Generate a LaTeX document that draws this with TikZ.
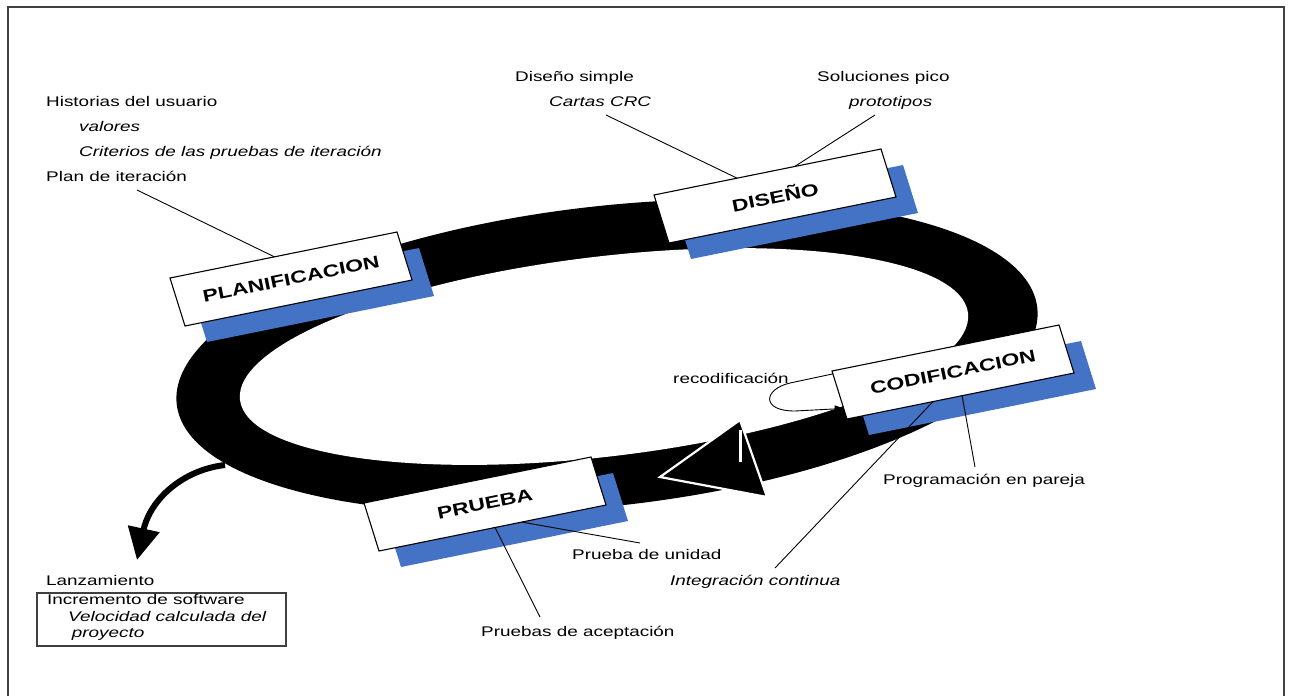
\documentclass[tikz,border=0pt]{standalone}
\usepackage{fontspec}
\setmainfont[FakeStretch=1.35]{Liberation Sans}
\usetikzlibrary{calc,arrows.meta}
\definecolor{phaseblue}{RGB}{68,114,196}
\definecolor{framegray}{RGB}{64,64,64}
\newcommand\cyclebox[4]{%
  \coordinate (#1tl) at (#2,#3);
  \coordinate (#1tr) at ({#2+227},{#3-46});
  \coordinate (#1br) at ({#2+242},{#3+2});
  \coordinate (#1bl) at ({#2+15},{#3+48});
  \fill[phaseblue] ($(#1tl)+(22,16)$) -- ($(#1tr)+(22,16)$) -- ($(#1br)+(22,16)$) -- ($(#1bl)+(22,16)$) -- cycle;
  \draw[phasebox] (#1tl) -- (#1tr) -- (#1br) -- (#1bl) -- cycle;
  \node[phaselabel] (#1) at ($(#1tl)!0.5!(#1br)$) {#4};
}
\begin{document}
\begin{tikzpicture}[x=1pt,y=-1pt,
  lbl/.style={anchor=base west, inner sep=0pt, font=\fontsize{14}{17}\selectfont},
  ilbl/.style={anchor=base west, inner sep=0pt, font=\fontsize{14}{17}\selectfont\itshape},
  phaselabel/.style={inner sep=0pt, rotate=11.5, font=\fontsize{17}{20}\selectfont\bfseries},
  phasebox/.style={draw=black, fill=white, line width=1.1pt},
  conn/.style={draw=black, line width=0.9pt}]
\useasboundingbox (0,0) rectangle (1292,696);
% frame
\draw[framegray, line width=2.4pt] (8,696) -- (8,7) -- (1284,7) -- (1284,696);
% ring
\fill[black, rotate around={6.4:(607,356)}] (607,356) ellipse [x radius=433, y radius=150];
\fill[white, rotate around={6.8:(604,356.5)}] (604,356.5) ellipse [x radius=366.6, y radius=100];
% release arrow
\coordinate (relstart) at (225,465);
\coordinate (reltip) at (137,560);
\draw[line width=6pt, -{Triangle[length=32pt,width=31pt]}] (relstart) .. controls (182,470) and (150,500) .. (reltip);
% direction arrowhead on ring
\filldraw[fill=black, draw=white, line width=2.2pt] (660,477) -- (740,420) -- (767,497) -- cycle;
\draw[white, line width=2.5pt] (740.5,430) -- (740.5,462);
% phase boxes
\cyclebox{plan}{170}{278}{PLANIFICACION}
\cyclebox{dis}{654}{195}{DISEÑO}
\cyclebox{cod}{832}{371}{CODIFICACION}
\cyclebox{pru}{364}{503}{PRUEBA}
% labels
\node[lbl] (hist) at (46,106.5) {Historias del usuario};
\node[ilbl] (valores) at (79,131.7) {valores};
\node[ilbl] (criterios) at (79,156.7) {Criterios de las pruebas de iteración};
\node[lbl] (planit) at (46,181.7) {Plan de iteración};
\node[lbl] (dsimple) at (515,81.7) {Diseño simple};
\node[ilbl] (crc) at (549,106.7) {Cartas CRC};
\node[lbl] (solpico) at (817,81.7) {Soluciones pico};
\node[ilbl] (proto) at (849,106.7) {prototipos};
\node[lbl] (recod) at (673,383) {recodificación};
\node[lbl] (prog) at (883,484) {Programación en pareja};
\node[ilbl] (integ) at (670,585) {Integración continua};
\node[lbl] (unidad) at (572,559) {Prueba de unidad};
\node[lbl] (acept) at (481,636) {Pruebas de aceptación};
\node[lbl] (lanz) at (46,585) {Lanzamiento};
\node[draw=framegray, line width=1.6pt, minimum width=249pt, minimum height=53pt, inner sep=0pt, anchor=north west] (relbox) at (36,592) {};
\node[lbl] (incr) at (47,604) {Incremento de software};
\node[ilbl] (veloc) at (68,621.7) {Velocidad calculada del};
\node[ilbl] (proy) at (71.7,637) {proyecto};
% connector ends
\coordinate (planitend) at (137,190);
\coordinate (crcend) at (606,115);
\coordinate (protoend) at (875,115);
\coordinate (progend) at (975,467);
\coordinate (integend) at (775,568);
\coordinate (unidadend) at (640,543);
\coordinate (aceptend) at (540,617);
\coordinate (recodend) at (790,383);
% connectors
\draw[conn] (planitend) -- ($(plantl)!0.46!(plantr)$);
\draw[conn] (crcend) -- ($(distl)!0.366!(distr)$);
\draw[conn] (protoend) -- ($(distl)!0.62!(distr)$);
\draw[conn] (progend) -- ($(codbl)!0.507!(codbr)$);
\draw[conn] (integend) -- ($(codbl)!0.379!(codbr)$);
\draw[conn] (unidadend) -- ($(prubl)!0.629!(prubr)$);
\draw[conn] (aceptend) -- ($(prubl)!0.511!(prubr)$);
% recodificacion loop
\draw[conn, -{Triangle[length=9pt,width=7pt]}] ($(codtl)!0.06!(codbl)$) -- (recodend) .. controls (764,389) and (760,411) .. (795,411) -- ($(codtl)!0.78!(codbl)$);
\end{tikzpicture}
\end{document}
